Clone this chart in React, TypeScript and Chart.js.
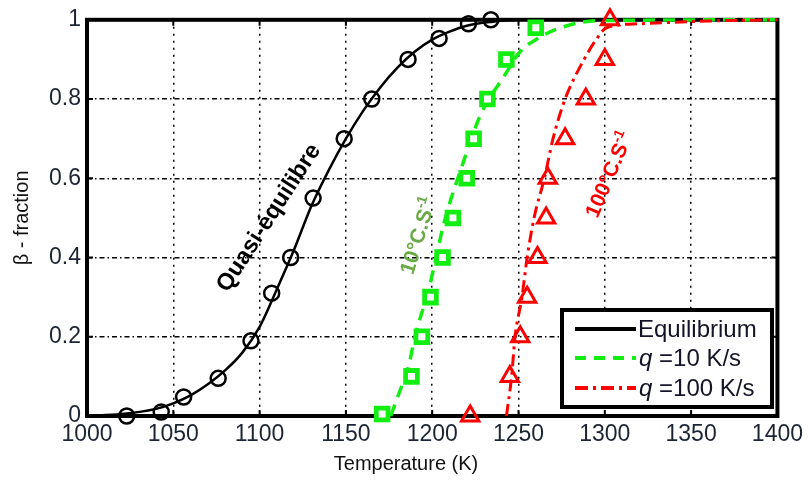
import React, { useEffect, useRef } from 'react';
import { Chart, registerables } from 'chart.js';

Chart.register(...registerables);

// ---- Data (temperature in K, beta fraction) ----
const eqLineT = [1000, 1020, 1040, 1050, 1060, 1070, 1080, 1090, 1100, 1110, 1120, 1130, 1140, 1150, 1160, 1170, 1180, 1190, 1200, 1210, 1220, 1235, 1250, 1275, 1300, 1400];
const eqLineBeta = [0, 0.005, 0.018, 0.032, 0.052, 0.08, 0.115, 0.16, 0.225, 0.32, 0.42, 0.53, 0.62, 0.7, 0.77, 0.83, 0.88, 0.92, 0.95, 0.97, 0.985, 0.995, 1, 1, 1, 1];

const eqPtsT = [1023, 1043, 1056, 1076, 1095, 1107, 1118, 1131, 1149, 1165, 1186, 1204, 1221, 1234];
const eqPtsBeta = [0, 0.01, 0.048, 0.095, 0.19, 0.31, 0.4, 0.55, 0.7, 0.8, 0.9, 0.953, 0.99, 1.0];

const q10LineT = [1176, 1181, 1186, 1190, 1198, 1207, 1218, 1228, 1242, 1251, 1262, 1273, 1296, 1400];
const q10LineBeta = [0, 0.06, 0.12, 0.2, 0.32, 0.49, 0.64, 0.76, 0.86, 0.92, 0.955, 0.978, 0.998, 1];

const q10PtsT = [1171, 1188, 1194, 1199, 1206, 1212, 1220, 1224, 1232, 1243, 1260];
const q10PtsBeta = [0.005, 0.1, 0.2, 0.3, 0.4, 0.5, 0.6, 0.7, 0.8, 0.9, 0.98];

const q100LineT = [1243, 1246, 1248, 1252, 1255, 1259, 1265, 1270, 1277, 1288, 1295, 1301, 1320, 1360, 1400];
const q100LineBeta = [0, 0.1, 0.2, 0.3, 0.4, 0.5, 0.6, 0.7, 0.8, 0.9, 0.95, 0.98, 0.99, 0.997, 1];

const q100PtsT = [1222, 1245, 1251, 1255, 1261, 1266, 1267, 1277, 1289, 1300, 1303];
const q100PtsBeta = [0, 0.1, 0.2, 0.3, 0.4, 0.5, 0.6, 0.7, 0.8, 0.9, 1.0];

const xTicks = [1000, 1050, 1100, 1150, 1200, 1250, 1300, 1350, 1400];
const xTickLabels = ['1000', '1050', '1100', '1150', '1200', '1250', '1300', '1350', '1400'];
const yTicks = [0, 0.2, 0.4, 0.6, 0.8, 1];
const yTickLabels = ['0', '0.2', '0.4', '0.6', '0.8', '1'];

const legendLabels = ['Equilibrium', '=10 K/s', '=100 K/s'];
const xTitle = 'Temperature (K)';
const yTitle = 'β - fraction';

const GREEN = '#12ee12';
const RED = '#ff0000';
const FONT = '"Liberation Sans", Arial, sans-serif';

const toXY = (xs: number[], ys: number[]) => xs.map((x, i) => ({ x, y: ys[i] }));

const framePlugin = {
  id: 'frame',
  beforeDatasetsDraw(chart: any) {
    const { ctx, chartArea: a, scales } = chart;
    ctx.save();
    ctx.strokeStyle = '#000';
    ctx.lineWidth = 2;
    const tl = 6;
    xTicks.forEach((t) => {
      const x = scales.x.getPixelForValue(t);
      ctx.beginPath();
      ctx.moveTo(x, a.bottom);
      ctx.lineTo(x, a.bottom - tl);
      ctx.moveTo(x, a.top);
      ctx.lineTo(x, a.top + tl);
      ctx.stroke();
    });
    yTicks.forEach((t) => {
      const y = scales.y.getPixelForValue(t);
      ctx.beginPath();
      ctx.moveTo(a.left, y);
      ctx.lineTo(a.left + tl, y);
      ctx.moveTo(a.right, y);
      ctx.lineTo(a.right - tl, y);
      ctx.stroke();
    });
    ctx.lineWidth = 4;
    ctx.strokeRect(a.left, a.top, a.right - a.left, a.bottom - a.top);
    // x-axis title (centred on the figure, as in the original)
    ctx.fillStyle = '#111';
    ctx.font = `20px ${FONT}`;
    ctx.textAlign = 'center';
    ctx.textBaseline = 'middle';
    ctx.fillText(xTitle, 406, 464);
    ctx.restore();
  },
};

function drawRotatedText(
  ctx: CanvasRenderingContext2D,
  cx: number,
  cy: number,
  angleDeg: number,
  parts: { text: string; font: string; dy: number }[],
  color: string
) {
  ctx.save();
  ctx.translate(cx, cy);
  ctx.rotate((-angleDeg * Math.PI) / 180);
  ctx.fillStyle = color;
  ctx.textBaseline = 'middle';
  ctx.textAlign = 'left';
  let total = 0;
  const widths = parts.map((p) => {
    ctx.font = p.font;
    const w = ctx.measureText(p.text).width;
    total += w;
    return w;
  });
  let x = -total / 2;
  parts.forEach((p, i) => {
    ctx.font = p.font;
    ctx.fillText(p.text, x, p.dy);
    x += widths[i];
  });
  ctx.restore();
}

const overlayPlugin = {
  id: 'overlay',
  afterDatasetsDraw(chart: any) {
    const ctx: CanvasRenderingContext2D = chart.ctx;
    // annotations
    drawRotatedText(ctx, 269, 218, 57, [{ text: 'Quasi-équilibre', font: `bold 23.5px ${FONT}`, dy: 0 }], '#000');
    drawRotatedText(
      ctx,
      419,
      236,
      73,
      [
        { text: '10°C.S', font: `bold 21px ${FONT}`, dy: 0 },
        { text: '-1', font: `bold 14px ${FONT}`, dy: -7 },
      ],
      '#6aaa46'
    );
    drawRotatedText(
      ctx,
      610,
      175,
      67,
      [
        { text: '100°C.S', font: `bold 21px ${FONT}`, dy: 0 },
        { text: '-1', font: `bold 14px ${FONT}`, dy: -7 },
      ],
      RED
    );

    // legend
    const bx = 562, by = 310, bw = 210, bh = 97;
    ctx.save();
    ctx.fillStyle = '#fff';
    ctx.fillRect(bx, by, bw, bh);
    ctx.lineWidth = 4;
    ctx.strokeStyle = '#000';
    ctx.strokeRect(bx, by, bw, bh);
    const rows = [329, 358, 388];
    const styles = [
      { color: '#000', dash: [] as number[] },
      { color: GREEN, dash: [11, 8] },
      { color: RED, dash: [13, 5, 3, 5] },
    ];
    rows.forEach((ry, i) => {
      ctx.beginPath();
      ctx.setLineDash(styles[i].dash);
      ctx.strokeStyle = styles[i].color;
      ctx.lineWidth = 4;
      ctx.moveTo(575, ry);
      ctx.lineTo(636, ry);
      ctx.stroke();
    });
    ctx.setLineDash([]);
    ctx.fillStyle = '#141428';
    ctx.textBaseline = 'middle';
    ctx.textAlign = 'left';
    ctx.font = `24px ${FONT}`;
    ctx.fillText(legendLabels[0], 638, rows[0] + 1);
    [1, 2].forEach((i) => {
      ctx.font = `italic 24px ${FONT}`;
      ctx.fillText('q', 639, rows[i] + 1);
      const w = ctx.measureText('q ').width;
      ctx.font = `24px ${FONT}`;
      ctx.fillText(legendLabels[i], 639 + w, rows[i] + 1);
    });
    ctx.restore();
  },
};

export default function App() {
  const ref = useRef<HTMLCanvasElement | null>(null);
  useEffect(() => {
    if (!ref.current) return;
    const chart = new Chart(ref.current, {
      type: 'line',
      data: {
        datasets: [
          {
            label: 'q100 pts',
            data: toXY(q100PtsT, q100PtsBeta),
            showLine: false,
            pointStyle: 'triangle',
            pointRadius: 10,
            pointBorderWidth: 3,
            pointBorderColor: RED,
            pointBackgroundColor: 'rgba(0,0,0,0)',
            clip: 20,
          } as any,
          {
            label: 'q10 pts',
            data: toXY(q10PtsT, q10PtsBeta),
            showLine: false,
            pointStyle: 'rect',
            pointRadius: 8.3,
            pointBorderWidth: 4.8,
            pointBorderColor: GREEN,
            pointBackgroundColor: '#fff',
            clip: 20,
          } as any,
          {
            label: 'eq pts',
            data: toXY(eqPtsT, eqPtsBeta),
            showLine: false,
            pointStyle: 'circle',
            pointRadius: 7.5,
            pointBorderWidth: 2.5,
            pointBorderColor: '#000',
            pointBackgroundColor: 'rgba(0,0,0,0)',
            clip: 20,
          } as any,
          {
            label: 'q =100 K/s',
            data: toXY(q100LineT, q100LineBeta),
            borderColor: RED,
            borderWidth: 3,
            borderDash: [12, 5, 3, 5],
            pointRadius: 0,
            cubicInterpolationMode: 'monotone',
            clip: 10,
          } as any,
          {
            label: 'q =10 K/s',
            data: toXY(q10LineT, q10LineBeta),
            borderColor: GREEN,
            borderWidth: 3.5,
            borderDash: [12, 8],
            pointRadius: 0,
            cubicInterpolationMode: 'monotone',
            clip: 10,
          } as any,
          {
            label: 'Equilibrium',
            data: toXY(eqLineT, eqLineBeta),
            borderColor: '#000',
            borderWidth: 2.5,
            pointRadius: 0,
            cubicInterpolationMode: 'monotone',
            clip: 10,
          } as any,
        ],
      },
      options: {
        responsive: false,
        animation: false,
        layout: { padding: { top: 16, right: 28, left: 0, bottom: 0 } },
        plugins: { legend: { display: false }, tooltip: { enabled: false } },
        scales: {
          x: {
            type: 'linear',
            min: 1000,
            max: 1400,
            afterBuildTicks: (s: any) => {
              s.ticks = xTicks.map((v) => ({ value: v }));
            },
            afterFit: (s: any) => {
              s.height = 65;
            },
            ticks: {
              callback: (_v: any, i: number) => xTickLabels[i],
              font: { family: FONT, size: 23 },
              color: '#1c2434',
              padding: 5,
              maxRotation: 0,
              autoSkip: false,
            },
            grid: { color: '#000', lineWidth: 1.5, drawTicks: false, tickLength: 0 },
            border: { display: false, dash: [2, 5] },
            title: { display: false },
          },
          y: {
            type: 'linear',
            min: 0,
            max: 1,
            afterBuildTicks: (s: any) => {
              s.ticks = yTicks.map((v) => ({ value: v }));
            },
            afterFit: (s: any) => {
              s.width = 87;
            },
            ticks: {
              callback: (_v: any, i: number) => yTickLabels[i],
              font: { family: FONT, size: 23 },
              color: '#1c2434',
              padding: 6,
              autoSkip: false,
            },
            grid: { color: '#000', lineWidth: 1.5, drawTicks: false, tickLength: 0 },
            border: { display: false, dash: [5, 3, 1.5, 3] },
            title: {
              display: true,
              text: yTitle,
              font: { family: FONT, size: 20 },
              color: '#111',
              padding: { top: 10, bottom: 0 },
            },
          },
        },
      },
      plugins: [framePlugin, overlayPlugin],
    });
    return () => chart.destroy();
  }, []);

  return (
    <div style={{ position: 'absolute', left: 0, top: 0, width: 808, height: 481, background: '#fff' }}>
      <canvas ref={ref} width={808} height={481} style={{ display: 'block' }} />
    </div>
  );
}
